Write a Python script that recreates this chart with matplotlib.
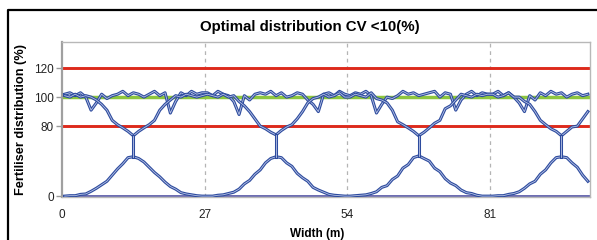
import numpy as np
import matplotlib.pyplot as plt
import matplotlib.patheffects as pe
from matplotlib.lines import Line2D

# width positions (m), one reading per metre
width_m = np.arange(0.5, 100, 1.0)

# lower curve: single-pass edge contributions (%), read per 27 m bout
bump = [0, 0.5, 0.5, 2, 2.5, 5.5, 9, 13, 17, 24, 31, 37, 44, 45, 43, 39, 33, 27, 22, 16, 11, 8, 4, 2.5, 1.5, 0.5, 0,
        0, 0, 1, 1.5, 3, 4.5, 8, 14, 18, 25, 30, 38, 43, 45, 44, 38, 34, 26, 21, 17, 10, 7, 4.5, 2, 1, 0.5, 0,
        0, 0.5, 1, 1.5, 3, 5, 10, 12, 19, 23, 32, 36, 44, 46, 43, 40, 32, 28, 20, 15, 12, 7, 4, 3, 1, 0, 0,
        0, 0.5, 0.5, 2, 3, 5, 9, 14, 17, 25, 30, 38, 44, 45, 44, 38, 33, 24, 17]

# overlap curve (%), dips to the Y junction at each bout centre
upper = [101, 100, 102, 100, 101, 100, 98, 95, 91, 84, 81, 78, 74, 69, 74, 78, 81, 84, 91, 95, 98, 101, 100, 102, 101, 100, 101,
         102, 101, 100, 102, 100, 101, 97, 94, 90, 85, 80, 77, 73, 70, 75, 79, 81, 85, 90, 96, 99, 100, 102, 100, 101, 103, 100,
         100, 102, 101, 100, 103, 99, 98, 96, 91, 83, 81, 78, 74, 69, 73, 78, 82, 84, 92, 94, 98, 102, 101, 100, 102, 101, 102,
         102, 100, 101, 103, 100, 100, 97, 95, 90, 84, 81, 77, 74, 69, 74, 79, 80, 85, 90]

# total distribution (%)
total = [102, 103, 101, 103, 100, 91, 96, 102, 99, 101, 102, 104, 101, 103, 102, 100, 102, 104, 101, 103, 89, 97, 103, 101, 104, 102, 103,
         103, 101, 104, 102, 101, 97, 88, 101, 98, 102, 103, 102, 104, 101, 103, 100, 101, 103, 102, 98, 95, 90, 102, 103, 101, 104, 102,
         101, 103, 102, 104, 101, 89, 95, 100, 99, 101, 104, 102, 103, 101, 102, 103, 104, 100, 103, 102, 91, 98, 102, 104, 101, 103, 102,
         102, 104, 101, 103, 100, 96, 90, 101, 98, 103, 101, 104, 102, 103, 100, 102, 103, 101, 102]

centres = [13.5, 40.5, 67.5, 94.5]
xticks = [0, 27, 54, 81]
yticks = [0, 80, 100, 120]
limits = [80, 120]
target = 100

blue = '#2d4b9e'
plt.rcParams['font.family'] = ['Liberation Sans', 'DejaVu Sans']


# broken-looking y axis: 0-80 squeezed, 80-140 stretched
def fwd(v):
    v = np.asarray(v, dtype=float)
    return np.where(v <= 80, v * 0.875, 70 + (v - 80) * 1.45)


def inv(u):
    u = np.asarray(u, dtype=float)
    return np.where(u <= 70, u / 0.875, 80 + (u - 70) / 1.45)


fig = plt.figure(figsize=(5.97, 2.40), dpi=100)
ax = fig.add_axes([62 / 597, 1 - 197 / 240, 528 / 597, 155 / 240])
ax.set_yscale('function', functions=(fwd, inv))

for lim in limits:
    ax.axhline(lim, color='#dd2a1c', lw=2.1, zorder=1)
ax.axhline(target, color='#8dc63f', lw=2.5, zorder=1)
ax.axhline(0, color='#5f5faa', lw=1.3, zorder=2)

for xv in xticks[1:]:
    ax.axvline(xv, color='#b4b4b4', lw=0.9, ls=(0, (3, 3)), zorder=0)

# outlined blue lines (dark edge, pale core)
style = dict(color='#b9c4e6', lw=0.6, zorder=4,
             path_effects=[pe.Stroke(linewidth=2.2, foreground=blue), pe.Normal()])
ax.plot(width_m, total, **style)
ax.plot(width_m, upper, **style)
ax.plot(width_m, bump, **style)
for c in centres:
    i = int(c - 0.5)
    ax.plot([c, c], [bump[i], upper[i]], **style)

ax.set_xlim(0, 99.9)
ax.set_ylim(-1, 138)
ax.set_xticks(xticks)
ax.set_yticks(yticks)
ax.tick_params(axis='x', length=0, pad=9, labelsize=8.5, labelcolor='#222222')
ax.tick_params(axis='y', length=4, width=1, color='#999999', pad=2, labelsize=8.5, labelcolor='#222222')

for s in ['top', 'right', 'bottom']:
    ax.spines[s].set_color('#b8b8b8')
    ax.spines[s].set_linewidth(1.0)
ax.spines['left'].set_color('#a0a0a0')
ax.spines['left'].set_linewidth(1.6)

ax.set_title('Optimal distribution CV <10(%)', fontsize=10.8, fontweight='bold', pad=8, x=0.47)
ax.set_xlabel('Width (m)', fontsize=8.5, fontweight='bold', labelpad=5, x=0.483)
ax.set_ylabel('Fertiliser distribution (%)', fontsize=9.2, fontweight='bold', labelpad=5)

# black frame on left and top edges of the picture
fig.add_artist(Line2D([8 / 597, 8 / 597, 1], [0, 1 - 9.5 / 240, 1 - 9.5 / 240],
                      transform=fig.transFigure, color='black', lw=1.6))

fig.savefig('out.png', dpi=100)
